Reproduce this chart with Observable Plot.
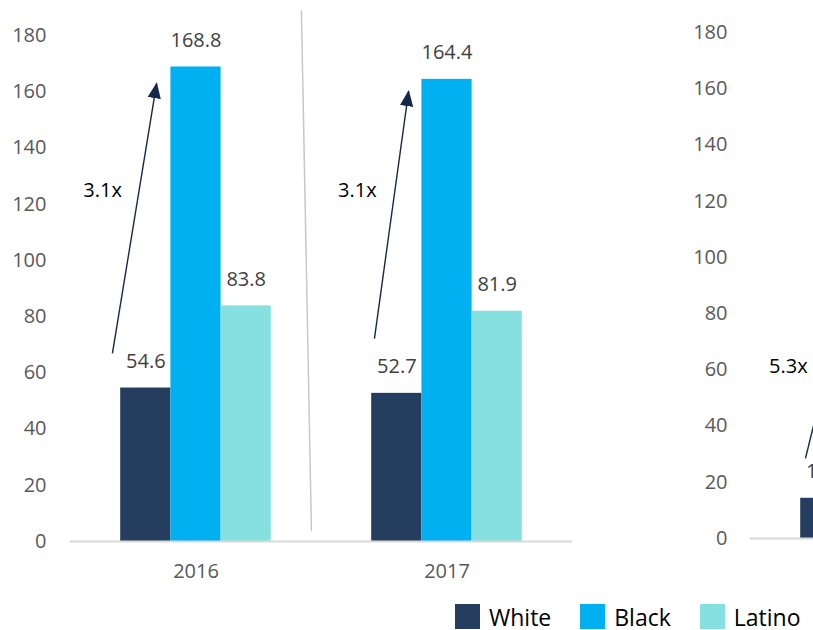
<!DOCTYPE html>
<html><head><meta charset="utf-8">
<script src="https://cdn.jsdelivr.net/npm/d3@7"></script>
<script src="https://cdn.jsdelivr.net/npm/@observablehq/plot@0.6"></script>
<style>
body{margin:0;background:#fff;}
#wrap{position:relative;width:813px;height:630px;overflow:hidden;font-family:"Open Sans",sans-serif;}
#left,#right,#legend{position:absolute;}
#left{left:0;top:0;width:650px}
#right{left:650px;top:0;width:429px}
#left svg,#right svg{max-width:none !important}
#legend{left:455px;top:604px;display:flex;align-items:flex-start;font-size:23px;color:#000;white-space:nowrap}
#legend .item{display:flex;align-items:flex-start;margin-right:29px}
#legend .sw{width:25px;height:25px;margin-right:9px}
#legend .lab{line-height:24px;position:relative;top:1px}
</style></head><body>
<div id="wrap"><div id="left"></div><div id="right"></div><div id="legend"></div></div>
<script>
// ---- data ----
const races = ["White", "Black", "Latino"];
const colors = ["#253e5f", "#00b0f0", "#86e0e0"];
const years = ["2016", "2017"];
const whiteVals = [54.6, 52.7];
const blackVals = [168.8, 164.4];
const latinoVals = [83.8, 81.9];
const yTicks = [0, 20, 40, 60, 80, 100, 120, 140, 160, 180];
// ratio annotations (left panel), in data space: x offset from group centre, y value
const ratioLabels = ["3.1x", "3.1x"];
const ratioLabelX = [-0.372, -0.357];
const ratioLabelY = [124.9, 124.9];
const arrowStartX = [-0.333, -0.289];
const arrowStartY = [66.9, 72.2];
const arrowEndX = [-0.157, -0.153];
const arrowEndY = [162.9, 160.1];
// separator between the two groups
const sepX = [0.420, 0.460];
const sepY = [188.9, 3.6];
// right panel (cropped): only the first bar is visible
const rightWhiteVals = [14.3];
const rightRatioLabels = ["5.3x"];
const rightRatioLabelX = [-0.349];
const rightRatioLabelY = [61.2];
const rightArrowStartX = [-0.281];
const rightArrowStartY = [28.5];
const rightArrowEndX = [-0.15];
const rightArrowEndY = [76];

// ---- derived tables ----
const series = [whiteVals, blackVals, latinoVals];
const BW = 0.2;
const rows = years.flatMap((yr, g) => races.map((r, ri) => ({group: g, ri, race: r, value: series[ri][g]})));
const arrows = years.map((yr, g) => ({
  x1: g + arrowStartX[g], y1: arrowStartY[g], x2: g + arrowEndX[g], y2: arrowEndY[g],
  lx: g + ratioLabelX[g], ly: ratioLabelY[g], label: ratioLabels[g]
}));
const sep = [{x1: sepX[0], y1: sepY[0], x2: sepX[1], y2: sepY[1]}];
const rightRows = rightWhiteVals.map((v, g) => ({group: g, ri: 0, race: races[0], value: v}));
const rightArrows = rightRatioLabels.map((l, g) => ({
  x1: g + rightArrowStartX[g], y1: rightArrowStartY[g], x2: g + rightArrowEndX[g], y2: rightArrowEndY[g],
  lx: g + rightRatioLabelX[g], ly: rightRatioLabelY[g], label: l
}));

function arrowHead(color) {
  const m = d3.create("svg:marker")
    .attr("viewBox", "-6 -5 12 10")
    .attr("markerWidth", 16).attr("markerHeight", 14)
    .attr("markerUnits", "userSpaceOnUse")
    .attr("refX", 5).attr("refY", 0)
    .attr("orient", "auto")
    .attr("fill", color).attr("stroke", "none");
  m.append("path").attr("d", "M-6,-5L6,0L-6,5Z");
  return m.node();
}

const x1f = d => d.group + (d.ri - 1.5) * BW;
const x2f = d => d.group + (d.ri - 0.5) * BW;
const xcf = d => d.group + (d.ri - 1) * BW;

const common = {
  style: {fontFamily: "Open Sans", fontSize: "20px", color: "#595959", background: "transparent", overflow: "visible"},
  color: {type: "ordinal", domain: races, range: colors},
};

function barMarks(data, arr) {
  return [
    Plot.rect(data, {x1: x1f, x2: x2f, y1: 0, y2: "value", fill: {value: "race", scale: "color"}}),
    Plot.ruleY([0], {stroke: "#d9d9d9", strokeWidth: 2}),
    Plot.text(data, {x: xcf, y: "value", text: d => d.value.toFixed(1), dy: -20, lineAnchor: "bottom", fill: "#404040", fontSize: 20, fontFamily: "Open Sans"}),
    Plot.link(arr, {x1: "x1", y1: "y1", x2: "x2", y2: "y2", stroke: "#14284b", strokeWidth: 1.4, markerEnd: arrowHead}),
    Plot.text(arr, {x: "lx", y: "ly", text: "label", fill: "#000", fontSize: 20, fontFamily: "Open Sans"})
  ];
}

const left = Plot.plot({
  ...common,
  width: 650, height: 601,
  marginLeft: 70, marginRight: 78, marginTop: 35, marginBottom: 60,
  x: {domain: [-0.5, 1.5], ticks: [0, 1], tickFormat: i => years[i], tickSize: 0, tickPadding: 22, label: null},
  y: {domain: [0, 180], ticks: yTicks, tickSize: 0, tickPadding: 24, label: null},
  marks: [
    Plot.link(sep, {x1: "x1", y1: "y1", x2: "x2", y2: "y2", stroke: "#c8c8c8", strokeWidth: 1.5}),
    ...barMarks(rows, arrows)
  ]
});
document.getElementById("left").append(left);

const right = Plot.plot({
  ...common,
  width: 429, height: 601,
  marginLeft: 100, marginRight: 78, marginTop: 32, marginBottom: 63,
  x: {domain: [-0.5, 0.5], axis: null},
  y: {domain: [0, 180], ticks: yTicks, tickSize: 0, tickPadding: 23, label: null},
  marks: barMarks(rightRows, rightArrows)
});
document.getElementById("right").append(right);

const legend = d3.select("#legend");
races.forEach((r, i) => {
  const it = legend.append("div").attr("class", "item");
  it.append("div").attr("class", "sw").style("background", colors[i]);
  it.append("div").attr("class", "lab").text(r);
});
</script>
</body></html>
